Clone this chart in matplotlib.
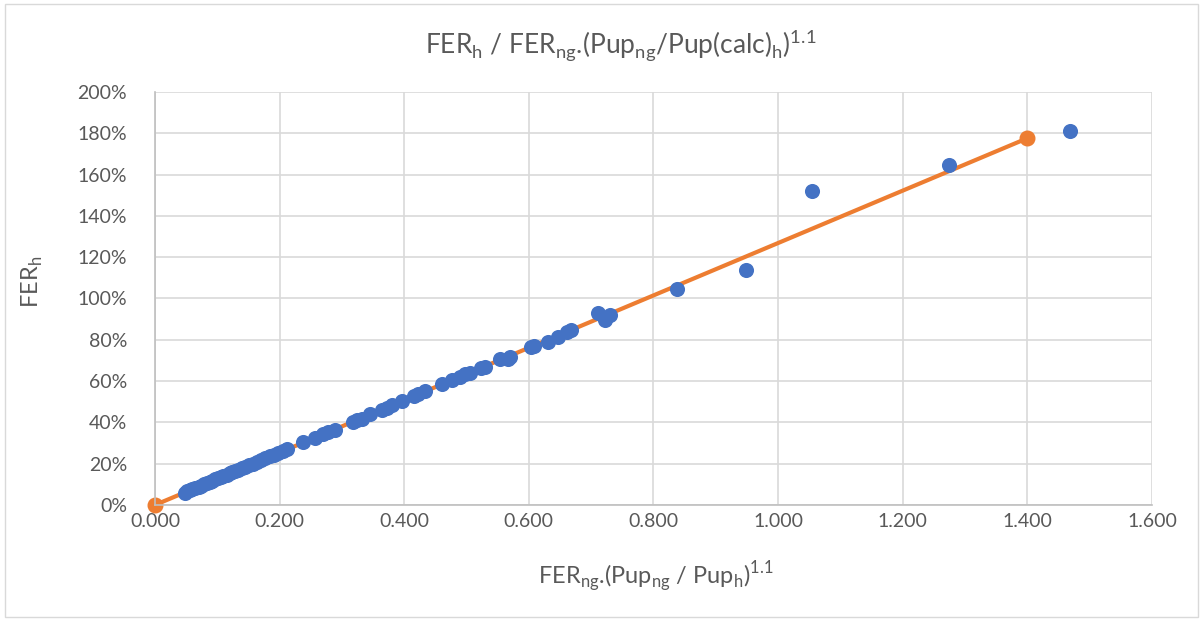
import matplotlib
matplotlib.use("Agg")
import matplotlib.pyplot as plt
from matplotlib.patches import Rectangle
from matplotlib.ticker import FuncFormatter, MultipleLocator

# measured points (blue)
x_meas = [0.048, 0.052, 0.056, 0.060, 0.065, 0.070, 0.074, 0.079, 0.083, 0.088,
          0.092, 0.097, 0.101, 0.106, 0.110, 0.115, 0.120, 0.124, 0.129, 0.134,
          0.139, 0.145, 0.151, 0.157, 0.163, 0.170, 0.177, 0.184, 0.191, 0.198,
          0.205, 0.212, 0.238, 0.257, 0.270, 0.278, 0.289, 0.318, 0.325, 0.333,
          0.345, 0.365, 0.372, 0.380, 0.396, 0.415, 0.422, 0.433, 0.460, 0.476,
          0.490, 0.497, 0.505, 0.524, 0.530, 0.554, 0.566, 0.570, 0.604, 0.608,
          0.631, 0.647, 0.662, 0.668, 0.711, 0.722, 0.731, 0.838, 0.948, 1.055,
          1.275, 1.468]
y_meas = [0.060, 0.066, 0.071, 0.076, 0.083, 0.089, 0.094, 0.101, 0.106, 0.112,
          0.117, 0.124, 0.129, 0.135, 0.140, 0.147, 0.153, 0.158, 0.165, 0.171,
          0.177, 0.185, 0.193, 0.200, 0.208, 0.217, 0.226, 0.235, 0.244, 0.253,
          0.262, 0.271, 0.303, 0.326, 0.343, 0.352, 0.365, 0.404, 0.412, 0.418,
          0.440, 0.462, 0.470, 0.482, 0.502, 0.528, 0.537, 0.552, 0.585, 0.605,
          0.620, 0.632, 0.640, 0.664, 0.668, 0.706, 0.705, 0.718, 0.765, 0.772,
          0.790, 0.812, 0.838, 0.848, 0.932, 0.896, 0.918, 1.045, 1.137, 1.519,
          1.646, 1.812]

# fitted line (orange)
x_fit = [0.0, 1.4]
y_fit = [0.0, 1.776]

BLUE = "#4472C4"
ORANGE = "#ED7D31"
TXT = "#595959"

plt.rcParams['font.family'] = ['Lato', 'DejaVu Sans']

fig = plt.figure(figsize=(12.03, 6.19), dpi=100)
fig.patches.append(Rectangle((0.004, 0.004), 0.992, 0.99, transform=fig.transFigure,
                             fill=False, edgecolor="#D9D9D9", linewidth=1))
ax = fig.add_axes([0.1288, 0.1842, 0.8288, 0.6672])

ax.plot(x_fit, y_fit, color=ORANGE, linewidth=3, marker='o', markersize=10.5,
        zorder=2, clip_on=False)
ax.scatter(x_meas, y_meas, s=118, color=BLUE, zorder=3, linewidths=0, clip_on=False)

ax.set_xlim(0, 1.6)
ax.set_ylim(0, 2.0)
ax.xaxis.set_major_locator(MultipleLocator(0.2))
ax.yaxis.set_major_locator(MultipleLocator(0.2))
ax.xaxis.set_major_formatter(FuncFormatter(lambda v, p: f"{v:.3f}"))
ax.yaxis.set_major_formatter(FuncFormatter(lambda v, p: f"{v * 100:.0f}%"))
ax.grid(True, color="#D9D9D9", linewidth=1.2)
ax.set_axisbelow(True)
for side in ['top', 'right']:
    ax.spines[side].set_visible(False)
for side in ['left', 'bottom']:
    ax.spines[side].set_color("#BFBFBF")
    ax.spines[side].set_linewidth(1.2)
ax.tick_params(length=0, labelsize=14, colors=TXT)
ax.tick_params(axis='y', pad=20)
ax.tick_params(axis='x', pad=6)

fig.text(0.516, 0.927, r'FER$_\mathregular{h}$ / FER$_\mathregular{ng}$.(Pup$_\mathregular{ng}$/Pup(calc)$_\mathregular{h}$)$^\mathregular{1.1}$',
         ha='center', va='center', fontsize=19, color=TXT)
fig.text(0.545, 0.068, r'FER$_\mathregular{ng}$.(Pup$_\mathregular{ng}$ / Pup$_\mathregular{h}$)$^\mathregular{1.1}$',
         ha='center', va='center', fontsize=17, color=TXT)
fig.text(0.027, 0.545, r'FER$_\mathregular{h}$', rotation=90,
         ha='center', va='center', fontsize=17, color=TXT)

fig.savefig("out.png", dpi=100)
